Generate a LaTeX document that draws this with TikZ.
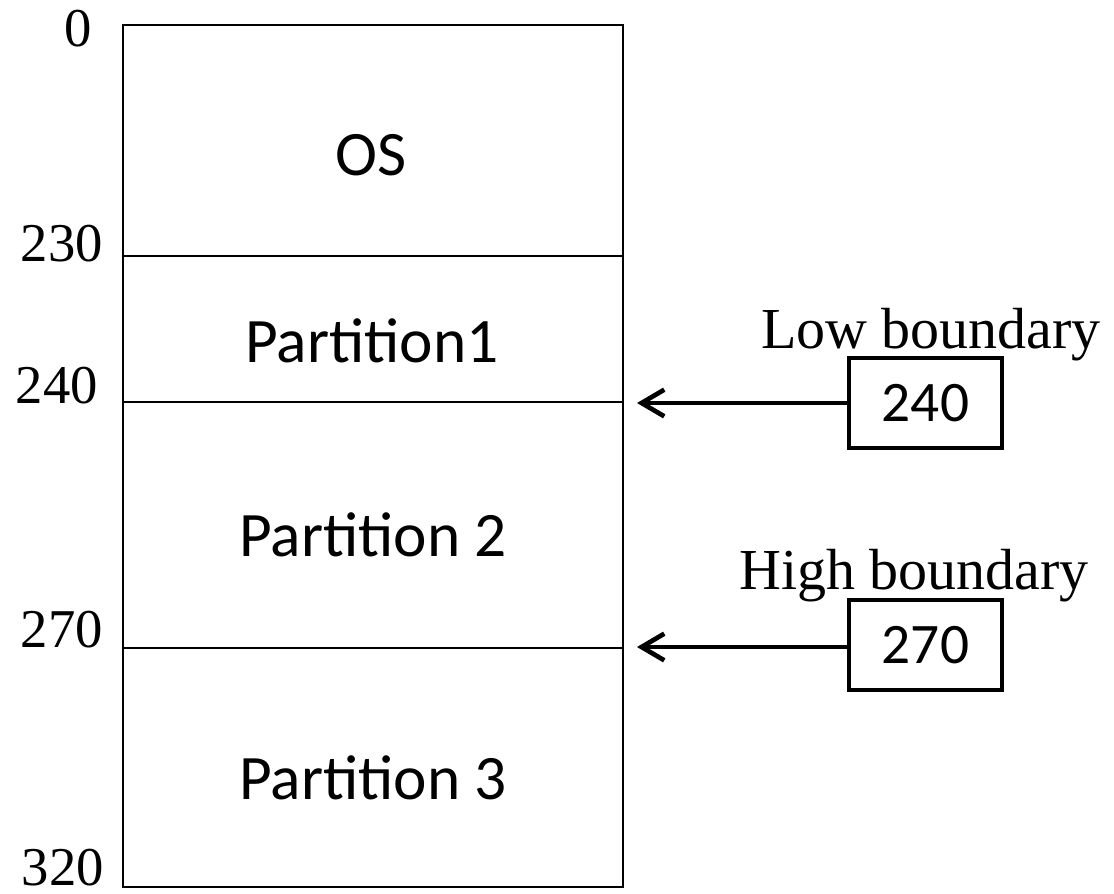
\documentclass[tikz,border=0pt]{standalone}
\usepackage{fontspec}
\setmainfont{Liberation Serif}
\newfontfamily\calib{Carlito}
\usetikzlibrary{arrows.meta}
\begin{document}
\begin{tikzpicture}[x=0.75pt,y=-0.75pt,
  serif/.style={font=\fontsize{41}{44}\selectfont, inner sep=0pt},
  bndlbl/.style={font=\fontsize{43.5}{46}\selectfont, inner sep=0pt, anchor=base},
  sanslbl/.style={font=\calib\fontsize{47.5}{50}\selectfont, inner sep=0pt},
  addr/.style={serif, anchor=base east},
  regbox/.style={draw, line width=3pt, minimum width=115pt, minimum height=68pt, inner sep=0pt, font=\calib\fontsize{43}{48}\selectfont},
  ptr/.style={line width=3.5pt, -{Straight Barb[length=17pt,width=20pt,line width=3.5pt]}}]
\useasboundingbox (0,0) rectangle (1114,893);
\draw[line width=1.6pt] (123,25) rectangle (623,887);
\coordinate (L1a) at (123,256); \coordinate (L1b) at (623,256);
\coordinate (L2a) at (123,402); \coordinate (L2b) at (623,402);
\coordinate (L3a) at (123,648); \coordinate (L3b) at (623,648);
\draw[line width=1.2pt] (L1a) -- (L1b);
\draw[line width=1.2pt] (L2a) -- (L2b);
\draw[line width=1.2pt] (L3a) -- (L3b);
\node[sanslbl] (os) at (371,155) {OS};
\node[sanslbl] (p1) at (372,341) {Partition1};
\node[sanslbl] (p2) at (373,535) {Partition 2};
\node[sanslbl] (p3) at (373,778) {Partition 3};
\node[addr] (a0) at (92,46) {0};
\node[addr] (a230) at (103,261) {230};
\node[addr] (a240) at (98,403) {240};
\node[addr] (a270) at (103,647) {270};
\node[addr] (a320) at (104,885) {320};
\node[regbox] (r240) at (925.5,403) {240};
\node[regbox] (r270) at (925.5,645) {270};
\node[bndlbl] (low) at (931,348) {Low boundary};
\node[bndlbl] (high) at (914,589) {High boundary};
\coordinate (t240) at (637,403);
\coordinate (t270) at (637,647);
\draw[ptr] (r240.west) -- (t240);
\draw[ptr] (r270.west |- t270) -- (t270);
\end{tikzpicture}
\end{document}
